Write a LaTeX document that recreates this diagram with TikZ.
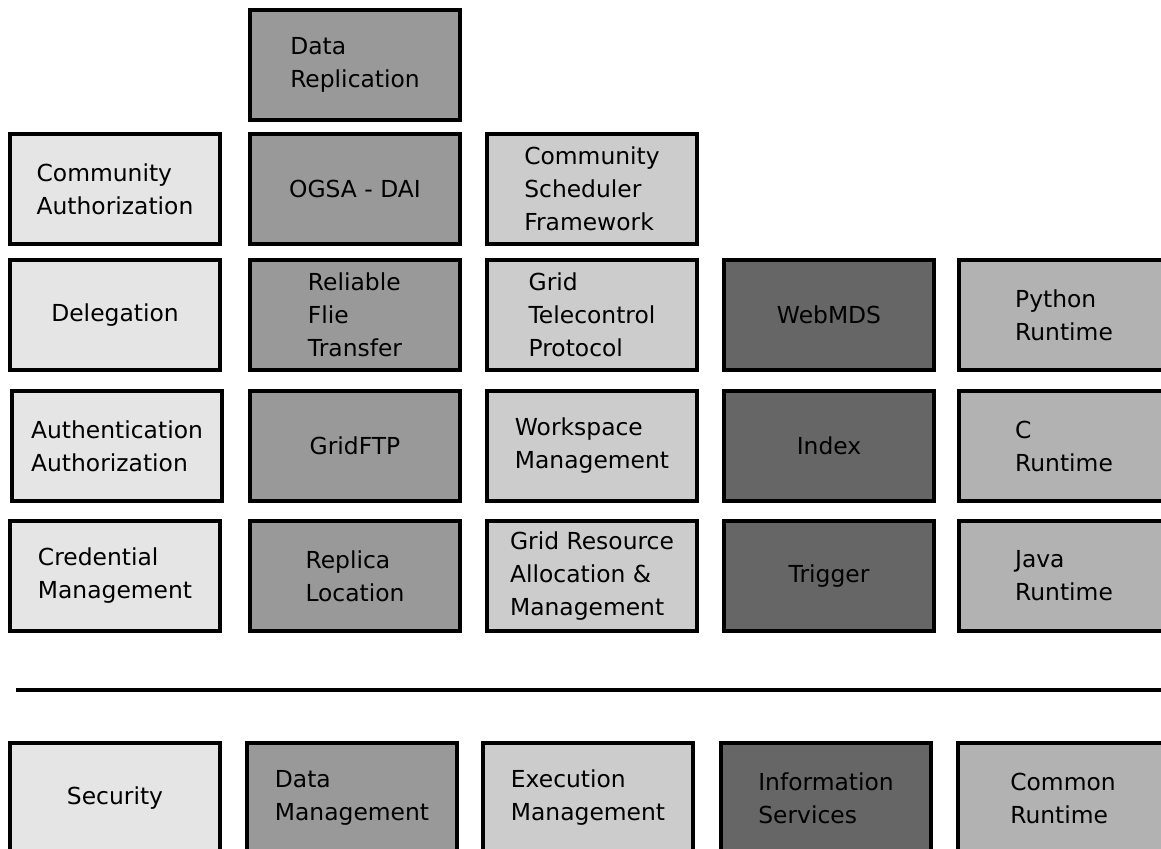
\documentclass[tikz,border=0pt]{standalone}
\usepackage{fontspec}
\setmainfont{DejaVu Sans}
\usetikzlibrary{positioning}

\tikzset{
  layer/.style={draw, line width=1.7pt, minimum width=105pt, minimum height=55pt,
    inner sep=0pt, align=left, font=\fontsize{11.7}{16.5}\selectfont},
  secbox/.style={layer, fill=black!10},
  databox/.style={layer, fill=black!40},
  execbox/.style={layer, fill=black!20},
  infobox/.style={layer, fill=black!60},
  runbox/.style={layer, fill=black!30}
}

\begin{document}
\begin{tikzpicture}[x=0.5pt, y=-0.5pt]
    \clip (0,0) rectangle (1161,849);

    % Security column
    \node[secbox] (commauth) at (115,189) {Community\\Authorization};
    \node[secbox] (deleg)    at (115,315) {Delegation};
    \node[secbox] (authn)    at (117,446) {Authentication\\Authorization};
    \node[secbox] (cred)     at (115,576) {Credential\\Management};

    % Data management column
    \node[databox] (datarep) at (355,65)  {Data\\Replication};
    \node[databox] (ogsa)    at (355,189) {OGSA - DAI};
    \node[databox] (rft)     at (355,315) {Reliable\\Flie\\Transfer};
    \node[databox] (gridftp) at (355,446) {GridFTP};
    \node[databox] (rls)     at (355,576) {Replica\\Location};

    % Execution management column
    \node[execbox] (csf)     at (592,189) {Community\\Scheduler\\Framework};
    \node[execbox] (gtcp)    at (592,315) {Grid\\Telecontrol\\Protocol};
    \node[execbox] (wsm)     at (592,446) {Workspace\\Management};
    \node[execbox] (gram)    at (592,576) {Grid Resource\\Allocation \&\\Management};

    % Information services column
    \node[infobox] (webmds)  at (829,315) {WebMDS};
    \node[infobox] (index)   at (829,446) {Index};
    \node[infobox] (trigger) at (829,576) {Trigger};

    % Common runtime column
    \node[runbox] (python)   at (1064,315) {Python\\Runtime};
    \node[runbox] (cruntime) at (1064,446) {C\\Runtime};
    \node[runbox] (java)     at (1064,576) {Java\\Runtime};

    % Separator
    \coordinate (sepL) at (16,690);
    \coordinate (sepR) at (1161,690);
    \draw[line width=2pt] (sepL) -- (sepR);

    % Categories
    \node[secbox]  (security) at (115,798)  {Security};
    \node[databox] (datamgmt) at (352,798)  {Data\\Management};
    \node[execbox] (execmgmt) at (588,798)  {Execution\\Management};
    \node[infobox] (infoserv) at (826,798)  {Information\\Services};
    \node[runbox]  (common)   at (1063,798) {Common\\Runtime};
\end{tikzpicture}
\end{document}
